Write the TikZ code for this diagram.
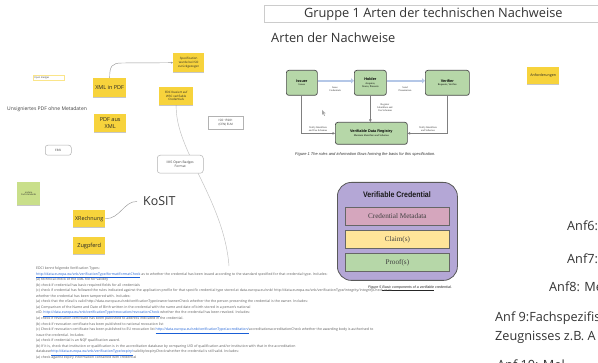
\documentclass[tikz,border=0pt]{standalone}
\usepackage{fontspec}
\setmainfont{Open Sans}
\newfontfamily\serifff{Liberation Serif}
\newfontfamily\arialf{Liberation Sans}
\newfontfamily\condf{Liberation Sans}[FakeStretch=0.88]
\usetikzlibrary{shadows,arrows.meta,backgrounds}
\definecolor{stickyY}{HTML}{F7D33C}
\definecolor{stickyG}{HTML}{C9DF8A}
\definecolor{fgreen}{HTML}{B6D7A8}
\definecolor{vcpurple}{HTML}{B4A7D6}
\definecolor{vcpink}{HTML}{D5A6BD}
\definecolor{vcyellow}{HTML}{FFE599}
\definecolor{flowblue}{HTML}{B4C7E7}
\definecolor{linkblue}{HTML}{1A5FD6}
\newcommand\fsz[2]{\fontsize{#1pt}{#2pt}\selectfont}
\newcommand\lnk[1]{\textcolor{linkblue}{\underline{#1}}}
\begin{document}
\begin{tikzpicture}[x=1pt,y=-1pt,
  sticky/.style={fill=stickyY, inner sep=0pt, align=center, anchor=north west, text=black!85,
    drop shadow={shadow xshift=0pt, shadow yshift=-1.2pt, opacity=0.22, fill=black}},
  gsticky/.style={sticky, fill=stickyG},
  wbox/.style={draw=black!30, line width=0.5pt, fill=white, inner sep=0pt, align=center, anchor=north west, text=black!75},
  anf/.style={anchor=base west, inner sep=0pt, font=\fsz{12.7}{14}, text=black!80},
  fbox/.style={draw=black!70, fill=fgreen, rounded corners=2.5pt, line width=0.7pt, inner sep=0pt, align=center,
    anchor=north west, font=\fsz{3}{3.6}},
  lbl/.style={font=\serifff\fsz{2.6}{3}, align=center, inner sep=0.5pt, text=black!80},
  flow/.style={draw=flowblue, line width=2.4pt, -{Triangle[length=3pt,width=5pt]}},
  reg/.style={draw=black!50, line width=0.9pt, -{Triangle[length=2.5pt,width=2.5pt,fill=black]}},
  conn/.style={draw=black!40, line width=0.45pt},
  vcpart/.style={draw=black!60, line width=0.7pt, minimum width=104pt, minimum height=18pt, inner sep=0pt,
    anchor=north west, font=\serifff\fsz{7.2}{8}, text=black!75}]
\useasboundingbox (0,0) rectangle (598,363);
\clip (0,0) rectangle (598,363);
\begin{scope}[on background layer]
\fill[white] (0,0) rectangle (598,363);
\end{scope}

% title
\node[draw=black!20, line width=0.6pt, minimum width=338pt, minimum height=17pt, anchor=north west,
  inner sep=0pt, font=\fsz{12.8}{14}, text=black!80] (title) at (264,5) {Gruppe 1 Arten der technischen Nachweise};
\node[anchor=base west, inner sep=0pt, font=\fsz{12.8}{14}, text=black!80] (arten) at (271,43) {Arten der Nachweise};

% figure 1
\node[fbox, minimum width=31pt, minimum height=25pt] (issuer) at (286,70)
  {{\arialf\bfseries\fsz{3.8}{4.5}Issuer}\\{\serifff\fsz{2.6}{3}Issues}};
\node[fbox, minimum width=32pt, minimum height=25pt] (holder) at (354,70)
  {{\arialf\bfseries\fsz{3.8}{4.5}Holder}\\{\serifff\fsz{2.6}{3}Acquires,}\\{\serifff\fsz{2.6}{3}Stores, Presents}};
\node[fbox, minimum width=44pt, minimum height=25pt] (verifier) at (425,70)
  {{\arialf\bfseries\fsz{3.8}{4.5}Verifier}\\{\serifff\fsz{2.6}{3}Requests, Verifies}};
\node[fbox, minimum width=72pt, minimum height=22pt] (vdr) at (335,122)
  {{\arialf\bfseries\fsz{3.8}{4.5}Verifiable Data Registry}\\{\serifff\fsz{2.6}{3}Maintain Identifiers and Schemas}};
\draw[flow] ([yshift=2pt]issuer.east) -- ([yshift=2pt]holder.west);
\draw[flow] ([yshift=2pt]holder.east) -- ([yshift=2pt]verifier.west);
\node[lbl] (lissue) at (335,89) {Issue\\Credentials};
\node[lbl] (lsend) at (405,89) {Send\\Presentation};
\draw[reg] (issuer.south) |- (vdr.west);
\draw[reg] (holder.south) -- (holder.south |- vdr.north);
\draw[reg] (verifier.south) |- (vdr.east);
\node[lbl] (lreg) at (385,108) {Register\\Identifiers and\\Use Schemas};
\node[lbl, fill=white] (lvi) at (318,129) {Verify Identifiers\\and Use Schemas};
\node[lbl, fill=white] (lvv) at (428,129) {Verify Identifiers\\and Schemas};
\node[anchor=base west, inner sep=0pt, font=\arialf\itshape\fsz{4}{5}, text=black!80] (cap1) at (295,156)
  {Figure 1 The roles and information flows forming the basis for this specification.};
\fill[black!35] (322,110) -- (322,115) -- (323.2,113.8) -- (324.3,116) -- (325,115.6) -- (324,113.5) -- (325.6,113.3) -- cycle;

% figure 5
\node[draw=black!65, fill=vcpurple, rounded corners=14pt, line width=0.8pt, minimum width=120pt,
  minimum height=98pt, anchor=north west, inner sep=0pt] (vc) at (337,182) {};
\node[anchor=base, inner sep=0pt, font=\condf\bfseries\fsz{8}{9}, text=black!90] (vctitle) at (397,198) {Verifiable Credential};
\node[vcpart, fill=vcpink] (meta) at (345,207) {Credential Metadata};
\node[vcpart, fill=vcyellow] (claims) at (345,230) {Claim(s)};
\node[vcpart, fill=fgreen] (proofs) at (345,253) {Proof(s)};
\node[anchor=base west, inner sep=0pt, font=\arialf\itshape\fsz{3.6}{4.5}, text=black!85] (cap5) at (368,288.5)
  {Figure 5 \underline{Basic components of a verifiable} credential.};

% right texts
\node[anf] (anf6) at (567,231) {Anf6:};
\node[anf] (anf7) at (567,264) {Anf7:};
\node[anf] (anf8) at (549,292) {Anf8: Me};
\node[anf] (anf9) at (495,322) {Anf 9:Fachspezifis};
\node[anf] (anf9b) at (495,341) {Zeugnisses z.B. A};
\node[anf] (anf10) at (497,370) {Anf 10: Mel};
\node[sticky, minimum width=32pt, minimum height=17pt, font=\fsz{3.6}{4}] (anford) at (527,67) {Anforderungen};

% left board
\node[sticky, minimum width=31pt, minimum height=19pt, font=\fsz{3}{3.6}] (spec) at (173,53) {Specification\\wurde bei ISO\\zurückgezogen};
\node[sticky, minimum width=33pt, minimum height=19pt, font=\fsz{5.5}{6.5}] (xmlpdf) at (93,78) {XML in PDF};
\node[sticky, minimum width=32pt, minimum height=18pt, font=\fsz{5.5}{6.5}] (pdfxml) at (94,114) {PDF aus\\XML};
\node[sticky, minimum width=34pt, minimum height=18pt, font=\fsz{3}{3.6}] (edci) at (159,87) {EDCI basiert auf\\W3C verifiable\\Credentials};
\node[wbox, minimum width=35pt, minimum height=13pt, font=\fsz{3}{3.8}] (iso) at (208,116) {ISO 15981\\(CEN) ELM};
\node[wbox, rounded corners=3pt, minimum width=46pt, minimum height=18pt, font=\fsz{3.3}{4.2}] (ims) at (157,155) {IMS Open Badges\\Format};
\node[wbox, draw=stickyY!60, minimum width=31pt, minimum height=5pt, font=\fsz{2.4}{3}, align=left, text width=29pt] (ob) at (33,75) {Open Badges};
\node[anchor=base west, inner sep=0pt, font=\fsz{5}{6}, text=black!75] (unsig) at (7,111) {Unsigniertes PDF ohne Metadaten};
\node[wbox, rounded corners=2.5pt, minimum width=26pt, minimum height=10pt, font=\fsz{3}{3.6}] (ebsi) at (45,145) {EBSI};
\node[gsticky, minimum width=23pt, minimum height=23pt, font=\fsz{2.2}{2.8}] (andere) at (17,182) {andere\\Fachstandards};
\node[anchor=west, inner sep=0pt, font=\fsz{12.4}{14}, text=black!80] (kosit) at (143,201.5) {KoSIT};
\node[sticky, minimum width=32pt, minimum height=17pt, font=\fsz{5.4}{6.5}] (xr) at (73,210) {XRechnung};
\node[sticky, minimum width=32pt, minimum height=17pt, font=\fsz{5.6}{6.5}] (zug) at (73,237) {Zugpferd};

\draw[conn, -{Stealth[length=2pt,width=2pt]}] (xmlpdf.north) .. controls (109.5,66) and (112,63) .. (122,63) -- (spec.west);
\coordinate (edciend) at (229,266);
\begin{scope}[on background layer]
\draw[conn, draw=black!25] (edci.south) .. controls (175,150) and (224,200) .. (edciend);
\end{scope}
\draw[conn] (xr.east) .. controls (120,219) and (124,201) .. ([xshift=-6pt]kosit.west);

% bottom text
\node[anchor=north west, inner sep=0pt, align=left, font=\fsz{3.5}{5.56}, text=black!65] (edcitext) at (36,266.6) {%
EDCI kennt folgende Verification Types:\\
\lnk{http://data.europa.eu/snb/verificationType/format/formatCheck} as to whether the credential has been issued according to the standard specified for that credential type. Includes:\\
(a) technical check of the XML file for validity\\
(b) check if credential has basic required fields for all credentials\\
(c) check if credential has followed the rules indicated against the application profile for that specific credential type stored at data.europa.eu/snb/ http://data.europa.eu/snb/verificationType/integrity/integrityCheck as to\\
whether the credential has been tampered with. Includes:\\
(a) check that the eSeal is valid http://data.europa.eu/snb/verificationType/owner/ownerCheck whether the the person presenting the credential is the owner. Includes:\\
(a) Comparison of the Name and Date of Birth written in the credential with the name and date of birth stored in a person's national\\
eID. \lnk{http://data.europa.eu/snb/verificationType/revocation/revocationCheck} whether the the credential has been revoked. Includes:\\
(a) check if revocation certificate has been published to address indicated in the credential.\\
(b) check if revocation certificate has been published to national revocation list\\
(c) Check if revocation certificate has been published to EU revocation list \lnk{http://data.europa.eu/snb/verificationType/accreditation/}accreditationaccreditationCheck whether the awarding body is authorised to\\
issue the credential. Includes:\\
(a) check if credential is an NQF qualification award.\\
(b) If it is, check that institution or qualification is in the accreditation database by comparing UID of qualification and/or institution with that in the accreditation\\
database\lnk{http://data.europa.eu/snb/verificationType/expiry/}validity/expiryCheck whether the credential is still valid. Includes:\\
(a) check against expiry information contained with credential};
\end{tikzpicture}
\end{document}
